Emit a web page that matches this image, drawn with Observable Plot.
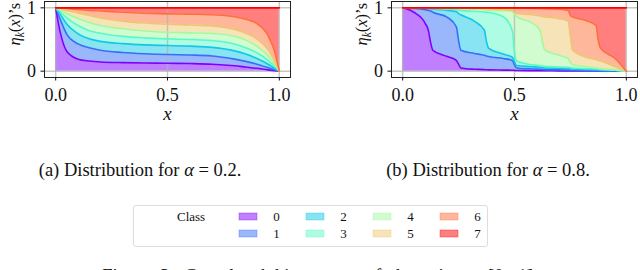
<!DOCTYPE html>
<html><head><meta charset="utf-8">
<script src="https://cdn.jsdelivr.net/npm/d3@7"></script>
<script src="https://cdn.jsdelivr.net/npm/@observablehq/plot@0.6"></script>
<style>
body{margin:0;width:640px;height:270px;overflow:hidden;background:#fff;font-family:"Liberation Serif",serif;position:relative;color:#111}
.abs{position:absolute}
.cap{font-size:18.5px;text-align:center;white-space:nowrap}
#a svg,#b svg{font-family:"Liberation Serif",serif !important;font-size:18px !important;overflow:visible !important;background:transparent !important}
#leg svg{font-family:"Liberation Serif",serif !important;font-size:13px !important;background:transparent !important}
#legendbox{left:133px;top:205px;width:353px;height:40px;border:1px solid #ddd;border-radius:3px;background:#fff}
</style></head><body>
<div id="a" class="abs" style="left:0;top:0"></div>
<div id="b" class="abs" style="left:320px;top:0"></div>
<div class="abs cap" style="left:0;width:280px;top:160px">(a) Distribution for <i>α</i> = 0.2.</div>
<div class="abs cap" style="left:348px;width:280px;top:160px">(b) Distribution for <i>α</i> = 0.8.</div>
<div id="legendbox" class="abs">
  <div class="abs" style="left:43px;top:3px;font-size:13px">Class</div>
  <div id="leg" class="abs" style="left:0;top:0"></div>
</div>
<div class="abs cap" style="left:0;width:640px;top:266px;word-spacing:5px">Figure 3: Cumulated histograms of the <i>η</i><i style="font-size:13px;vertical-align:-3px">k</i>’s on [0, 1].</div>
<script>
const classes = [0, 1, 2, 3, 4, 5, 6, 7];
const colors = ["#8000ff", "#376ff9", "#12c8e6", "#5bf9c7", "#a4f99f", "#edc76f", "#ff6f39", "#ff0000"];
const xTicks = [0, 0.5, 1];
const yTicks = [0, 1];

// Panel (a): alpha = 0.2 — cumulative boundaries c0..c6 (c7 = 1)
const leftX = [0, 0.02, 0.05, 0.1, 0.15, 0.2, 0.3, 0.4, 0.5, 0.6, 0.7, 0.8, 0.85, 0.9, 0.95, 0.98, 1];
const leftC0 = [1, 0.62, 0.31, 0.19, 0.16, 0.145, 0.135, 0.13, 0.125, 0.12, 0.11, 0.085, 0.065, 0.045, 0.02, 0.008, 0];
const leftC1 = [1, 0.82, 0.58, 0.43, 0.37, 0.33, 0.295, 0.275, 0.262, 0.255, 0.24, 0.19, 0.155, 0.11, 0.055, 0.02, 0];
const leftC2 = [1, 0.9, 0.74, 0.59, 0.51, 0.47, 0.435, 0.415, 0.405, 0.395, 0.375, 0.32, 0.27, 0.2, 0.11, 0.045, 0];
const leftC3 = [1, 0.94, 0.84, 0.72, 0.64, 0.6, 0.55, 0.525, 0.51, 0.5, 0.485, 0.43, 0.37, 0.29, 0.17, 0.07, 0];
const leftC4 = [1, 0.97, 0.91, 0.83, 0.77, 0.72, 0.67, 0.635, 0.615, 0.605, 0.595, 0.55, 0.49, 0.39, 0.24, 0.1, 0];
const leftC5 = [1, 0.985, 0.96, 0.92, 0.88, 0.84, 0.79, 0.76, 0.74, 0.73, 0.715, 0.66, 0.6, 0.51, 0.34, 0.15, 0];
const leftC6 = [1, 0.998, 0.99, 0.975, 0.96, 0.95, 0.93, 0.915, 0.905, 0.9, 0.89, 0.86, 0.82, 0.75, 0.56, 0.3, 0];

// Panel (b): alpha = 0.8
const rightX = [0, 0.05, 0.1, 0.115, 0.125, 0.135, 0.2, 0.24, 0.25, 0.26, 0.32, 0.365, 0.375, 0.385, 0.45, 0.49, 0.5, 0.51, 0.58, 0.615, 0.625, 0.635, 0.7, 0.74, 0.75, 0.76, 0.82, 0.865, 0.875, 0.885, 0.95, 1];
const rightC0 = [1, 0.93, 0.76, 0.64, 0.45, 0.33, 0.23, 0.17, 0.11, 0.05, 0.03, 0.025, 0.022, 0.02, 0.017, 0.015, 0.012, 0.01, 0.008, 0.007, 0.006, 0.006, 0.005, 0.004, 0.004, 0.003, 0.003, 0.002, 0.002, 0.002, 0.001, 0];
const rightC1 = [1, 0.99, 0.97, 0.96, 0.95, 0.93, 0.85, 0.7, 0.48, 0.33, 0.28, 0.25, 0.24, 0.23, 0.2, 0.17, 0.1, 0.05, 0.035, 0.03, 0.028, 0.025, 0.02, 0.018, 0.015, 0.013, 0.01, 0.008, 0.006, 0.005, 0.003, 0];
const rightC2 = [1, 1, 0.995, 0.99, 0.985, 0.98, 0.96, 0.94, 0.91, 0.89, 0.79, 0.65, 0.46, 0.36, 0.27, 0.22, 0.15, 0.09, 0.07, 0.06, 0.055, 0.05, 0.045, 0.04, 0.035, 0.03, 0.025, 0.02, 0.018, 0.015, 0.01, 0];
const rightC3 = [1, 1, 1, 1, 0.995, 0.99, 0.98, 0.97, 0.965, 0.96, 0.945, 0.935, 0.93, 0.925, 0.86, 0.64, 0.3, 0.16, 0.1, 0.085, 0.08, 0.075, 0.065, 0.06, 0.055, 0.05, 0.04, 0.035, 0.03, 0.027, 0.015, 0];
const rightC4 = [1, 1, 1, 1, 1, 1, 0.995, 0.99, 0.99, 0.985, 0.975, 0.97, 0.965, 0.96, 0.955, 0.95, 0.9, 0.86, 0.76, 0.64, 0.46, 0.34, 0.25, 0.2, 0.14, 0.1, 0.07, 0.05, 0.045, 0.04, 0.02, 0];
const rightC5 = [1, 1, 1, 1, 1, 1, 1, 1, 1, 1, 0.995, 0.99, 0.99, 0.985, 0.975, 0.955, 0.93, 0.91, 0.89, 0.87, 0.86, 0.855, 0.83, 0.79, 0.55, 0.33, 0.22, 0.18, 0.17, 0.16, 0.07, 0];
const rightC6 = [1, 1, 1, 1, 1, 1, 1, 1, 1, 1, 1, 1, 1, 1, 1, 1, 0.995, 0.995, 0.99, 0.99, 0.985, 0.985, 0.98, 0.96, 0.88, 0.86, 0.8, 0.72, 0.48, 0.36, 0.2, 0];

const yLabel = "ηk(x)’s";

function panel(xs, curves, marginLeft, marginRight) {
  const data = xs.map((x, i) => ({x, c: [...curves.map(c => c[i]), 1]}));
  const curve = "monotone-x";
  const marks = [];
  classes.forEach(k => {
    marks.push(Plot.areaY(data, {x: "x", y1: d => (k === 0 ? 0 : d.c[k - 1]), y2: d => d.c[k],
      fill: colors[k], fillOpacity: 0.5, curve}));
  });
  marks.push(Plot.ruleX(xTicks, {stroke: "#b0b0b0", strokeOpacity: 0.7, strokeWidth: 1.5}));
  marks.push(Plot.ruleY(yTicks, {stroke: "#b0b0b0", strokeOpacity: 0.7, strokeWidth: 1.5}));
  classes.forEach(k => {
    marks.push(Plot.lineY(data, {x: "x", y: d => d.c[k], stroke: colors[k], strokeWidth: 1.6, curve}));
  });
  marks.push(Plot.frame({stroke: "#222", strokeWidth: 1}));
  marks.push(Plot.axisX({ticks: xTicks, tickFormat: d3.format(".1f"), tickSize: 3.5, tickPadding: 7, label: null}));
  marks.push(Plot.axisY({ticks: yTicks, tickFormat: d3.format("d"), tickSize: 3.5, tickPadding: 5, label: null}));
  marks.push(Plot.text(["x"], {text: d => d, frameAnchor: "bottom", dy: 42, fontStyle: "italic", fontSize: 19, fontFamily: "Liberation Serif, serif"}));
  marks.push(Plot.text([yLabel], {text: d => d, frameAnchor: "left", dx: -30, dy: 6, rotate: -90, fontSize: 16.5, fontFamily: "Liberation Serif, serif"}));
  const svg = Plot.plot({
    width: 320, height: 125,
    marginTop: 1, marginBottom: 48, marginLeft, marginRight,
    x: {domain: [-0.05, 1.05]},
    y: {domain: [-0.1, 1.1]},
    marks
  });
  svg.querySelectorAll("text").forEach(t => {
    if (t.textContent === yLabel) {
      t.innerHTML = '<tspan font-style="italic">η</tspan><tspan font-style="italic" font-size="11.5" dy="4">k</tspan><tspan dy="-4">(</tspan><tspan font-style="italic">x</tspan><tspan>)’s</tspan>';
    }
  });
  return svg;
}

document.getElementById("a").appendChild(panel(leftX, [leftC0, leftC1, leftC2, leftC3, leftC4, leftC5, leftC6], 44, 30));
document.getElementById("b").appendChild(panel(rightX, [rightC0, rightC1, rightC2, rightC3, rightC4, rightC5, rightC6], 71, 3));

const leg = Plot.plot({
  width: 353, height: 40, margin: 0,
  x: {type: "band", domain: [0, 1, 2, 3], range: [76, 354], axis: null},
  y: {type: "band", domain: [0, 1], range: [1, 37], axis: null},
  color: {type: "ordinal", domain: classes, range: colors},
  marks: [
    Plot.cell(classes, {x: d => Math.floor(d / 2), y: d => d % 2, fill: d => d, fillOpacity: 0.5,
      stroke: d => d, strokeOpacity: 0.35, insetLeft: 21, insetRight: 21, insetTop: 4, insetBottom: 4}),
    Plot.text(classes, {x: d => Math.floor(d / 2), y: d => d % 2, text: d => String(d), dx: 28})
  ]
});
document.getElementById("leg").appendChild(leg);
</script>
</body></html>
